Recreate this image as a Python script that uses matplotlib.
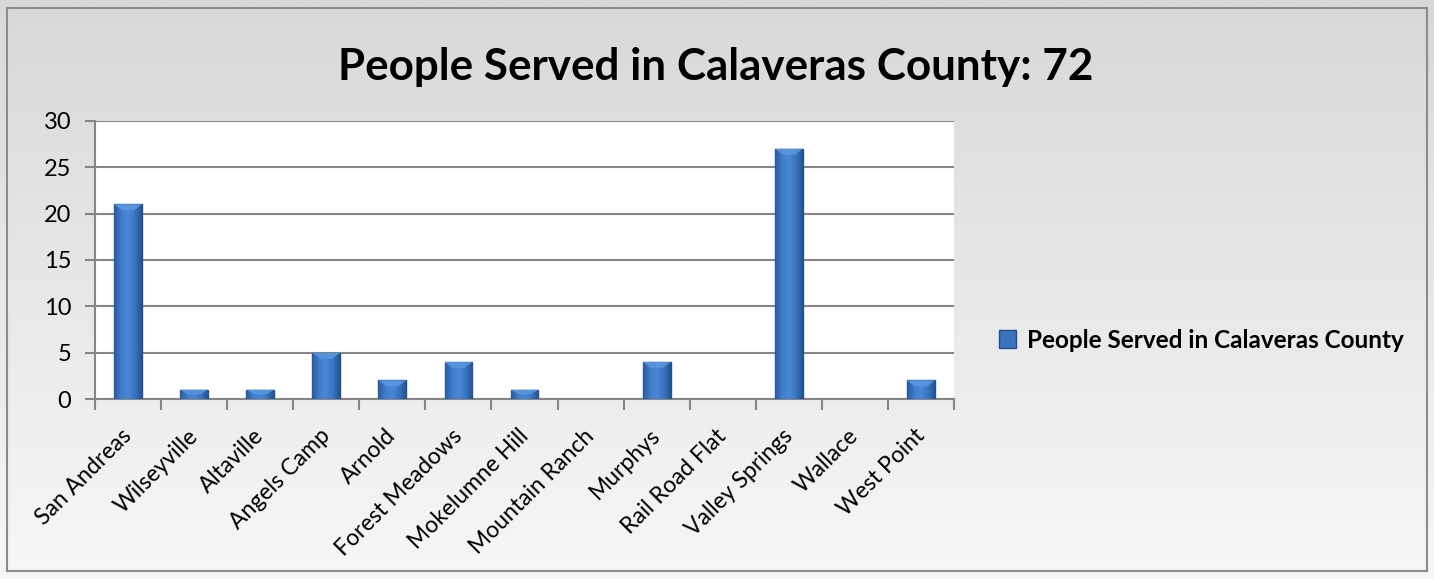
import numpy as np
import matplotlib
matplotlib.use("Agg")
import matplotlib.pyplot as plt
from matplotlib.patches import Rectangle, Polygon
from matplotlib.colors import LinearSegmentedColormap
from matplotlib.transforms import ScaledTranslation

categories = ["San Andreas", "Wilseyville", "Altaville", "Angels Camp", "Arnold",
              "Forest Meadows", "Mokelumne Hill", "Mountain Ranch", "Murphys",
              "Rail Road Flat", "Valley Springs", "Wallace", "West Point"]
values = [21, 1, 1, 5, 2, 4, 1, 0, 4, 0, 27, 0, 2]
yticks = [0, 5, 10, 15, 20, 25, 30]
title = "People Served in Calaveras County: 72"
series_name = "People Served in Calaveras County"

plt.rcParams['font.family'] = ['Lato', 'DejaVu Sans']

W, H = 1434, 579
fig = plt.figure(figsize=(W / 100, H / 100), dpi=100)

# background gradient
bg = fig.add_axes([0, 0, 1, 1])
bg.set_axis_off()
grad = np.linspace(0, 1, 256).reshape(-1, 1)
cm_bg = LinearSegmentedColormap.from_list("bg", ["#f7f7f7", "#d8d8d8"])
bg.imshow(grad, aspect="auto", cmap=cm_bg, extent=[0, 1, 0, 1], origin="lower")
bg.set_xlim(0, 1); bg.set_ylim(0, 1)
bg.add_patch(Rectangle((7 / W, 1 - 571 / H), (1427 - 7) / W, (571 - 8) / H,
                       fill=False, edgecolor="#8c8c8c", lw=1.5))

ax = fig.add_axes([95 / W, 1 - 399 / H, (954 - 95) / W, (399 - 121) / H])
ax.set_facecolor("white")
x = np.arange(len(categories))
bw = 0.42
lws = [1.0 if v > 0 else 0 for v in values]
bars = ax.bar(x, values, width=bw, color="#3b73bf", edgecolor="#234f8a", linewidth=lws, zorder=3)

# horizontal gradient inside bars for a shaded look, plus a bevelled top
cm_bar = LinearSegmentedColormap.from_list("bar", ["#2a5a9c", "#3f7ccc", "#4a88d6", "#3a74c2", "#24548f"])
hgrad = np.linspace(0, 1, 64).reshape(1, -1)
ypix = 30 / (399 - 121)  # data units per pixel
for b in bars:
    h = b.get_height()
    if h <= 0:
        continue
    x0, w = b.get_x(), b.get_width()
    im = ax.imshow(hgrad, aspect="auto", cmap=cm_bar,
                   extent=[x0, x0 + w, 0, h], zorder=3.5)
    im.set_clip_path(b)
    bev = min(6 * ypix, h * 0.5)
    ax.add_patch(Polygon([[x0, h], [x0 + w, h], [x0 + w * 0.72, h - bev], [x0 + w * 0.28, h - bev]],
                         closed=True, facecolor="#5b97e0", edgecolor="none", alpha=0.85, zorder=3.6))

ax.set_xlim(-0.5, len(categories) - 0.5)
ax.set_ylim(0, 30)
ax.set_yticks(yticks)
ax.set_yticklabels([str(v) for v in yticks], fontsize=17)
ax.grid(axis="y", color="#868686", lw=1.5, zorder=0)
for s in ["top", "right"]:
    ax.spines[s].set_visible(False)
for s in ["left", "bottom"]:
    ax.spines[s].set_color("#868686")
    ax.spines[s].set_linewidth(1.5)
ax.tick_params(axis="y", length=7, width=1.5, color="#868686", pad=10)
ax.set_xticks(np.arange(-0.5, len(categories), 1.0))
ax.set_xticklabels([])
ax.tick_params(axis="x", length=8, width=1.5, color="#868686")
ax.set_xticks(x, minor=True)
ax.set_xticklabels(categories, minor=True, rotation=45, ha="right", va="top",
                   rotation_mode="anchor", fontsize=16.5)
ax.tick_params(axis="x", which="minor", length=0, pad=8)
off = ScaledTranslation(-7 / 100, -15 / 100, fig.dpi_scale_trans)
for lab in ax.get_xticklabels(minor=True):
    lab.set_transform(lab.get_transform() + off)

fig.text(0.5 * (339 + 1092) / W, 1 - 67 / H, title, ha="center", va="center",
         fontsize=31.7, fontweight="bold", color="black")

handle = Rectangle((0, 0), 1, 1, facecolor="#3b73bf", edgecolor="#234f8a")
fig.legend([handle], [series_name], loc="center left",
           bbox_to_anchor=(977 / W, 1 - 340 / H), frameon=False,
           prop={"weight": "bold", "size": 17.5}, handlelength=0.7, handleheight=0.7,
           handletextpad=0.45)

fig.savefig("out.png", dpi=100)
